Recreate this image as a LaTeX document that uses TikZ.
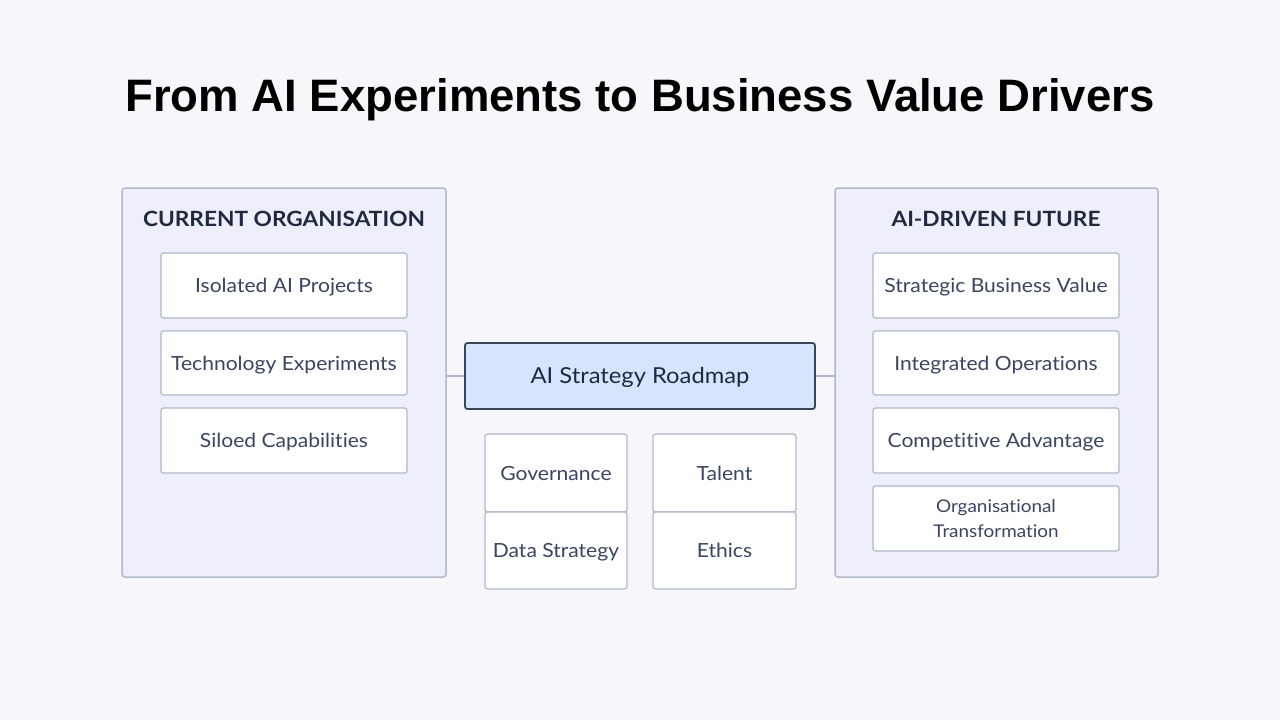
\documentclass[tikz,border=0pt]{standalone}
\usepackage{fontspec}
\setmainfont{Lato}[FakeStretch=1.08,Ligatures=CommonOff]
\newfontfamily\titlefont{Liberation Sans}
\definecolor{bgc}{HTML}{F7F7FB}
\definecolor{contfill}{HTML}{EFEFFC}
\definecolor{contline}{HTML}{AEB8CA}
\definecolor{textdark}{HTML}{1F2940}
\definecolor{textmid}{HTML}{3A4560}
\definecolor{roadfill}{HTML}{D6E4FD}
\definecolor{roadline}{HTML}{3A4558}
\begin{document}
\begin{tikzpicture}[x=1pt,y=-1pt,
  container/.style={draw=contline,fill=contfill,line width=1.5pt,rounded corners=3pt},
  capcenter/.style={text height=#1,text depth=0pt},
  itembox/.style={draw=contline,fill=white,line width=1.2pt,rounded corners=2.5pt,text=textmid,font=\fontsize{19.5}{25}\selectfont,align=center},
  heading/.style={capcenter=15.1pt,text=textdark,font=\fontsize{21}{25}\selectfont\bfseries},
  roadbox/.style={capcenter=15.8pt,draw=roadline,fill=roadfill,line width=1.8pt,rounded corners=2.5pt,text=textdark,font=\fontsize{22}{25}\selectfont},
  link/.style={draw=contline,line width=1.2pt}]
\useasboundingbox (0,0) rectangle (1280,720);
\fill[bgc] (0,0) rectangle (1280,720);
\node[font=\titlefont\bfseries\fontsize{45.5}{50}\selectfont,text=black,anchor=base] (title) at (640,111) {From AI Experiments to Business Value Drivers};
% containers
\draw[container] (122,188) rectangle (446,577);
\coordinate (lc) at (446,376);
\draw[container] (835,188) rectangle (1158,577);
\coordinate (rc) at (835,376);
\node[heading] (lh) at (284,219) {CURRENT ORGANISATION};
\node[heading] (rh) at (996,219) {AI-DRIVEN FUTURE};
% left items
\node[itembox,capcenter=14pt,minimum width=246pt,minimum height=65pt] (l1) at (284,285.5) {Isolated AI Projects};
\node[itembox,capcenter=14pt,minimum width=246pt,minimum height=64pt] (l2) at (284,363) {Technology Experiments};
\node[itembox,capcenter=14pt,minimum width=246pt,minimum height=65pt] (l3) at (284,440.5) {Siloed Capabilities};
% right items
\node[itembox,capcenter=14pt,minimum width=246pt,minimum height=65pt] (r1) at (996,285.5) {Strategic Business Value};
\node[itembox,capcenter=14pt,minimum width=246pt,minimum height=64pt] (r2) at (996,363) {Integrated Operations};
\node[itembox,capcenter=14pt,minimum width=246pt,minimum height=65pt] (r3) at (996,440.5) {Competitive Advantage};
\node[itembox,minimum width=246pt,minimum height=65pt,font=\fontsize{17.5}{25}\selectfont] (r4) at (996,518.5) {\rule{0pt}{14pt}Organisational\\Transformation};
% roadmap
\node[roadbox,minimum width=350pt,minimum height=66pt] (road) at (640,376) {AI Strategy Roadmap};
\draw[link] (lc) -- (road.west);
\draw[link] (road.east) -- (rc);
% pillars
\node[itembox,capcenter=14pt,minimum width=142pt,minimum height=78pt] (gov) at (556,473) {Governance};
\node[itembox,capcenter=14pt,minimum width=142pt,minimum height=77pt] (data) at (556,550.5) {Data Strategy};
\node[itembox,capcenter=14pt,minimum width=143pt,minimum height=78pt] (tal) at (724.5,473) {Talent};
\node[itembox,capcenter=14pt,minimum width=143pt,minimum height=77pt] (eth) at (724.5,550.5) {Ethics};
\end{tikzpicture}
\end{document}
